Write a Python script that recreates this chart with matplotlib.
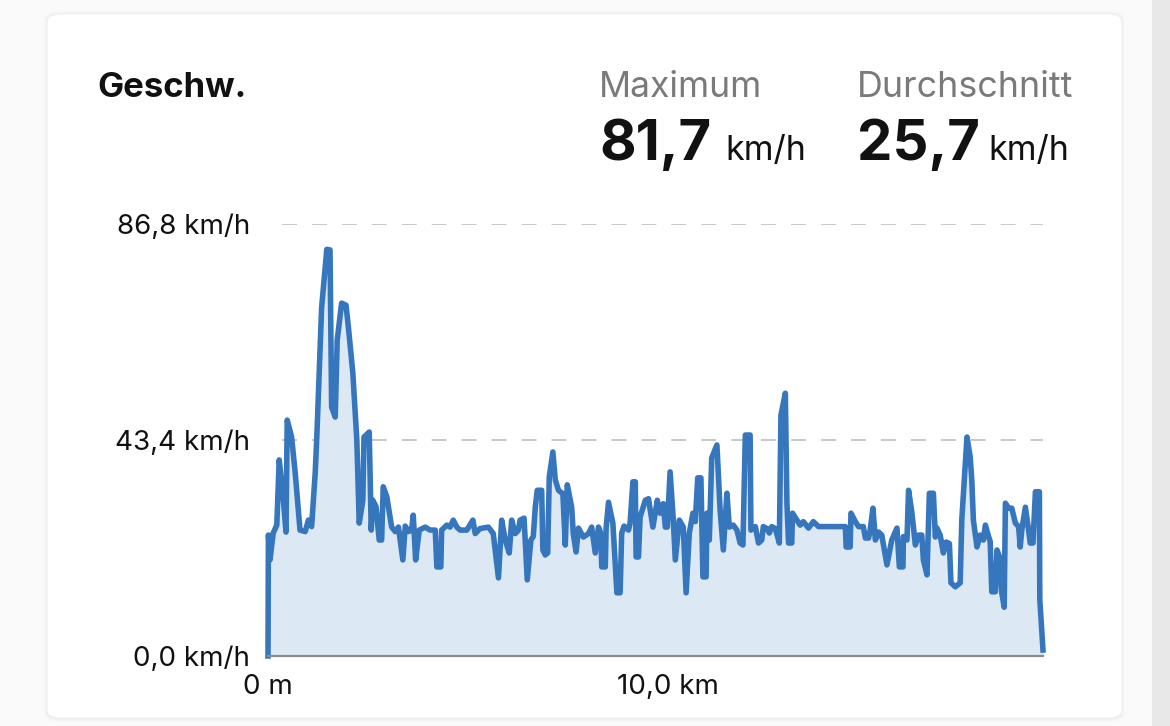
import matplotlib
matplotlib.use("Agg")
import matplotlib.pyplot as plt
from matplotlib.patches import FancyBboxPatch, Rectangle

plt.rcParams['font.family'] = ['Inter', 'DejaVu Sans']

# ---- data (distance in km, speed in km/h) ----
distance_km = [
    0.00, 0.01, 0.05, 0.13, 0.22, 0.28, 0.37, 0.45, 0.48, 0.59, 0.68, 0.80, 0.93, 1.01, 1.09,
    1.18, 1.22, 1.34, 1.47, 1.55, 1.59, 1.68, 1.73, 1.84, 1.95, 2.01, 2.12, 2.22, 2.28, 2.37,
    2.40, 2.53, 2.58, 2.62, 2.70, 2.78, 2.84, 2.88, 2.97, 3.09, 3.18, 3.26, 3.37, 3.43, 3.51,
    3.59, 3.63, 3.69, 3.78,
    3.93, 4.05, 4.18, 4.22, 4.32, 4.34, 4.47, 4.55, 4.63, 4.72, 4.80, 4.97, 5.12, 5.18, 5.30,
    5.51, 5.63, 5.76, 5.84, 5.93, 6.03, 6.09, 6.18, 6.26, 6.30, 6.40, 6.48, 6.57, 6.63, 6.68,
    6.73, 6.84, 6.87, 6.93, 6.99, 7.03, 7.12, 7.18, 7.26, 7.37, 7.43, 7.48, 7.59, 7.63, 7.70,
    7.76, 7.88, 8.01, 8.09, 8.18, 8.26, 8.32, 8.34, 8.43, 8.45, 8.51, 8.62, 8.72, 8.80, 8.84,
    8.90, 9.01, 9.05, 9.12, 9.18, 9.20, 9.26, 9.30, 9.43, 9.51, 9.62, 9.73, 9.80, 9.88, 9.93,
    9.98, 10.05, 10.13, 10.18, 10.28, 10.38, 10.45, 10.53, 10.62, 10.68, 10.74, 10.82, 10.87,
    10.95, 10.97, 11.03, 11.09, 11.22, 11.30, 11.38, 11.47, 11.53, 11.63, 11.72, 11.80,
    11.87, 11.93, 12.05, 12.07, 12.18, 12.26, 12.34, 12.38, 12.47, 12.53, 12.59, 12.68, 12.78,
    12.82, 12.93, 12.97, 13.01, 13.09, 13.11, 13.22, 13.30, 13.38, 13.51, 13.63, 13.76, 13.88,
    14.05, 14.30, 14.43, 14.45, 14.55, 14.57, 14.68, 14.76, 14.88, 14.93, 15.01, 15.05, 15.12,
    15.18, 15.26, 15.34, 15.47, 15.59, 15.72, 15.78,
    15.87, 15.88, 15.97, 16.01, 16.09, 16.18, 16.26, 16.34, 16.38, 16.47, 16.53, 16.63, 16.68,
    16.72, 16.80, 16.88, 16.95, 17.03, 17.07, 17.18, 17.30, 17.34, 17.47, 17.55, 17.59, 17.63,
    17.72, 17.80, 17.88, 17.93, 18.01, 18.05, 18.09, 18.18, 18.22, 18.28, 18.34, 18.40, 18.43,
    18.51, 18.59, 18.68, 18.76, 18.80, 18.84, 18.93, 19.01, 19.05, 19.12, 19.18, 19.28, 19.29,
    19.37,
]
speed_kmh = [
    0.0, 24.3, 19.3, 24.7, 26.3, 39.4, 32.7, 24.9, 47.4, 44.0, 36.8, 25.3, 25.0, 27.3, 26.0,
    36.8, 44.0, 70.0, 81.7, 81.6, 50.0, 48.0, 63.5, 70.9, 70.5, 66.0, 56.9, 43.4, 26.7, 31.3,
    44.0, 45.0, 25.3, 31.3, 30.0, 23.3, 23.3, 34.0, 32.0, 25.9, 25.0, 25.9, 19.3, 26.1, 25.0,
    25.3, 28.3, 19.3, 25.3,
    25.9, 25.3, 25.3, 17.9, 17.9, 25.3, 26.3, 25.9, 27.3, 25.9, 25.3, 25.3, 27.3, 24.6, 25.6,
    25.9, 24.6, 15.7, 27.3, 23.3, 20.7, 27.3, 24.6, 25.3, 27.3, 27.7, 15.3, 23.3, 24.0, 29.9,
    33.3, 33.3, 21.3, 20.3, 20.7, 36.0, 41.0, 35.4, 33.3, 32.6, 22.3, 34.4, 29.9, 24.6, 20.9,
    25.7, 23.9, 24.6, 25.9, 20.7, 25.9, 24.6, 17.9, 17.9, 25.6, 30.9, 26.7, 12.7, 12.7, 24.7,
    26.1, 25.3, 26.7, 35.0, 35.0, 19.9, 19.9, 27.9, 31.3, 31.6, 25.9, 31.3, 28.7, 30.6, 25.9,
    25.9, 37.0, 27.3, 19.3, 27.3, 25.9, 12.7, 24.7, 28.7, 27.0, 35.8, 35.8, 15.9,
    15.9, 28.7, 23.3, 39.8, 42.4, 29.3, 21.3, 32.7, 25.9, 26.3, 25.3, 22.7,
    22.3, 44.4, 44.4, 25.3, 26.0, 22.7, 23.3, 26.0, 25.6, 24.7, 26.0, 25.6, 22.7,
    48.4, 52.8, 30.7, 22.7, 22.7, 28.7, 27.3, 26.3, 27.0, 25.7, 27.0, 26.0, 26.0,
    26.0, 26.0, 26.0, 21.9, 21.9, 28.7, 27.0, 26.0, 26.0, 23.7, 23.7, 25.3, 29.7,
    23.3, 24.9, 24.3, 18.3, 23.3, 25.7, 17.9,
    17.9, 24.0, 23.3, 33.3, 29.0, 22.3, 24.3, 24.3, 19.3, 16.3, 32.7, 32.7, 23.9,
    25.7, 24.3, 20.7, 22.9, 22.6, 14.7, 13.9, 14.7, 27.3, 44.0, 40.0, 35.4, 27.3,
    21.9, 24.3, 23.3, 26.3, 24.0, 23.0, 12.9, 12.9, 21.3, 20.0, 12.7, 9.8, 30.7,
    29.7, 29.7, 26.7, 26.0, 21.9, 25.3, 29.9, 25.3, 22.7, 22.7, 33.0, 33.0, 11.3,
    1.2,
]
y_ticks = [0.0, 43.4, 86.8]
y_tick_labels = ["0,0 km/h", "43,4 km/h", "86,8 km/h"]
x_ticks = [0.0, 10.0]
x_tick_labels = ["0 m", "10,0 km"]
title = "Geschw."
stat_names = ["Maximum", "Durchschnitt"]
stat_values = ["81,7", "25,7"]
stat_unit = "km/h"

W, H = 1170, 726
fig = plt.figure(figsize=(W / 100, H / 100), dpi=100, facecolor="#fafafa")


def fx(x):
    return x / W


def fy(y):
    return 1 - y / H


# right gray strip
fig.patches.append(Rectangle((fx(1152), 0), fx(1170) - fx(1152), 1, transform=fig.transFigure,
                             facecolor="#e8e8e8", edgecolor="none", zorder=0))
# card shadow + card
for i, a in enumerate([0.008, 0.012, 0.018]):
    g = 3 - i
    fig.patches.append(FancyBboxPatch((fx(47 - g), fy(719 + g)), fx(1075 + 2 * g), (705 + 2 * g) / H,
                                      boxstyle="round,pad=0,rounding_size=0.012",
                                      transform=fig.transFigure, facecolor=(0, 0, 0, a),
                                      edgecolor="none", zorder=0.5))
fig.patches.append(FancyBboxPatch((fx(47), fy(718)), fx(1075), 704 / H,
                                  boxstyle="round,pad=0,rounding_size=0.012",
                                  transform=fig.transFigure, facecolor="white",
                                  edgecolor="#f0f0f0", linewidth=0.8, zorder=1))

# header texts
fig.text(fx(97), fy(97), title, fontsize=25, fontweight="bold", color="#111111",
         ha="left", va="baseline")
fig.text(fx(599), fy(97), stat_names[0], fontsize=25.6, color="#7a7a7a", ha="left", va="baseline")
fig.text(fx(857), fy(97), stat_names[1], fontsize=25.8, color="#7a7a7a", ha="left", va="baseline")
fig.text(fx(599), fy(160), stat_values[0], fontsize=40.5, fontweight="bold", color="#111111",
         ha="left", va="baseline")
fig.text(fx(725), fy(160), stat_unit, fontsize=24.5, color="#111111", ha="left", va="baseline")
fig.text(fx(857), fy(160), stat_values[1], fontsize=40.5, fontweight="bold", color="#111111",
         ha="left", va="baseline")
fig.text(fx(988), fy(160), stat_unit, fontsize=24.5, color="#111111", ha="left", va="baseline")

# chart axes
ax = fig.add_axes([fx(268), fy(656), fx(1043) - fx(268), (656 - 224) / H])
ax.set_facecolor("none")
ax.set_zorder(2)
ax.fill_between(distance_km, speed_kmh, 0, color="#dce9f5", linewidth=0, zorder=1)
ax.plot(distance_km, speed_kmh, color="#3676bd", linewidth=4.0, solid_joinstyle="round",
        zorder=3, clip_on=False)
ax.set_xlim(0, distance_km[-1])
ax.set_ylim(0, y_ticks[-1])

off = 14 / (1043 - 268)
for yv in y_ticks[1:]:
    ax.axhline(yv, xmin=off, xmax=1, color="#c8c8c8", linewidth=1.4, dashes=(7.7, 7.7), zorder=0.5)
ax.axhline(0, color="#8c8c8c", linewidth=1.6, zorder=4, clip_on=False)

for s in ax.spines.values():
    s.set_visible(False)
ax.set_yticks(y_ticks)
ax.set_yticklabels(y_tick_labels)
ax.set_xticks(x_ticks)
ax.set_xticklabels(x_tick_labels)
ax.tick_params(axis="both", length=0, labelsize=20, colors="#111111")
ax.tick_params(axis="y", pad=13)
ax.tick_params(axis="x", pad=13)

fig.savefig("out.png", dpi=100, facecolor=fig.get_facecolor())
